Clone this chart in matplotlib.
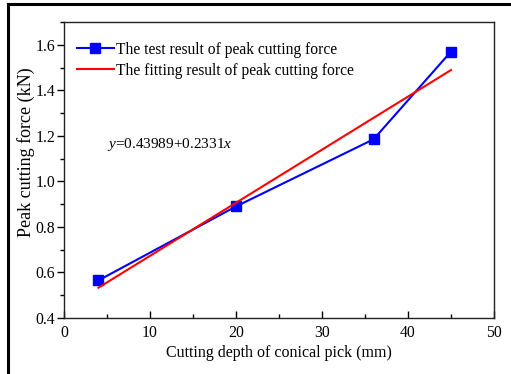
import matplotlib
matplotlib.use("Agg")
import matplotlib.pyplot as plt
from matplotlib.lines import Line2D
from matplotlib.ticker import MultipleLocator

plt.rcParams['font.family'] = ['Liberation Serif', 'DejaVu Serif']
plt.rcParams['mathtext.fontset'] = 'custom'
plt.rcParams['mathtext.rm'] = 'Liberation Serif'
plt.rcParams['mathtext.it'] = 'Liberation Serif:italic'

depth = [4, 20, 36, 45]
test_force = [0.565, 0.89, 1.185, 1.57]
fit_x = [4, 45]
fit_y = [0.533, 1.489]

fig = plt.figure(figsize=(5.11, 3.74), dpi=100)
ax = fig.add_axes([64/511, 1-318/374, (494-64)/511, (318-22)/374])

ax.plot(depth, test_force, color='#0000ff', lw=1.5, marker='s', ms=6.5,
        label='The test result of peak cutting force')
ax.plot(fit_x, fit_y, color='#ff0000', lw=1.5,
        label='The fitting result of peak cutting force')

ax.set_xlim(0, 50)
ax.set_ylim(0.4, 1.7)
ax.xaxis.set_major_locator(MultipleLocator(10))
ax.xaxis.set_minor_locator(MultipleLocator(5))
ax.yaxis.set_minor_locator(MultipleLocator(0.1))
ax.set_yticks([0.4, 0.6, 0.8, 1.0, 1.2, 1.4, 1.6])
ax.set_yticklabels(['0.4', '0.6', '0.8', '1.0', '1.2', '1.4', '1.6'])
ax.tick_params(axis='x', which='both', direction='in', labelsize=11.3, pad=5)
ax.tick_params(axis='y', which='both', direction='out', labelsize=11.3, pad=1.2)
ax.tick_params(which='major', length=5, width=1)
ax.tick_params(which='minor', length=3, width=1)
for s in ax.spines.values():
    s.set_linewidth(1.0)
    s.set_color('#222222')

ax.set_xlabel('Cutting depth of conical pick (mm)', fontsize=11.5, labelpad=3)
ax.set_ylabel('Peak cutting force (kN)', fontsize=13)
ax.yaxis.set_label_coords((35-64)/430, (318-152)/296)

ax.text(5, 1.16, '$y$=0.43989+0.2331$x$', fontsize=11, va='center', ha='left')

ax.legend(loc='upper left', frameon=False, fontsize=11.2, handlelength=2.4,
          handletextpad=0.15, borderaxespad=0.0, labelspacing=0.32,
          bbox_to_anchor=(0.015, 0.955))

# outer frame (partially cropped)
fig.add_artist(Line2D([8/511, 1.0], [1-4/374, 1-4/374], color='black', lw=2.2,
                      transform=fig.transFigure))
fig.add_artist(Line2D([8/511, 8/511], [0.0, 1-4/374], color='black', lw=2.2,
                      transform=fig.transFigure))

fig.savefig('out.png', dpi=100)
